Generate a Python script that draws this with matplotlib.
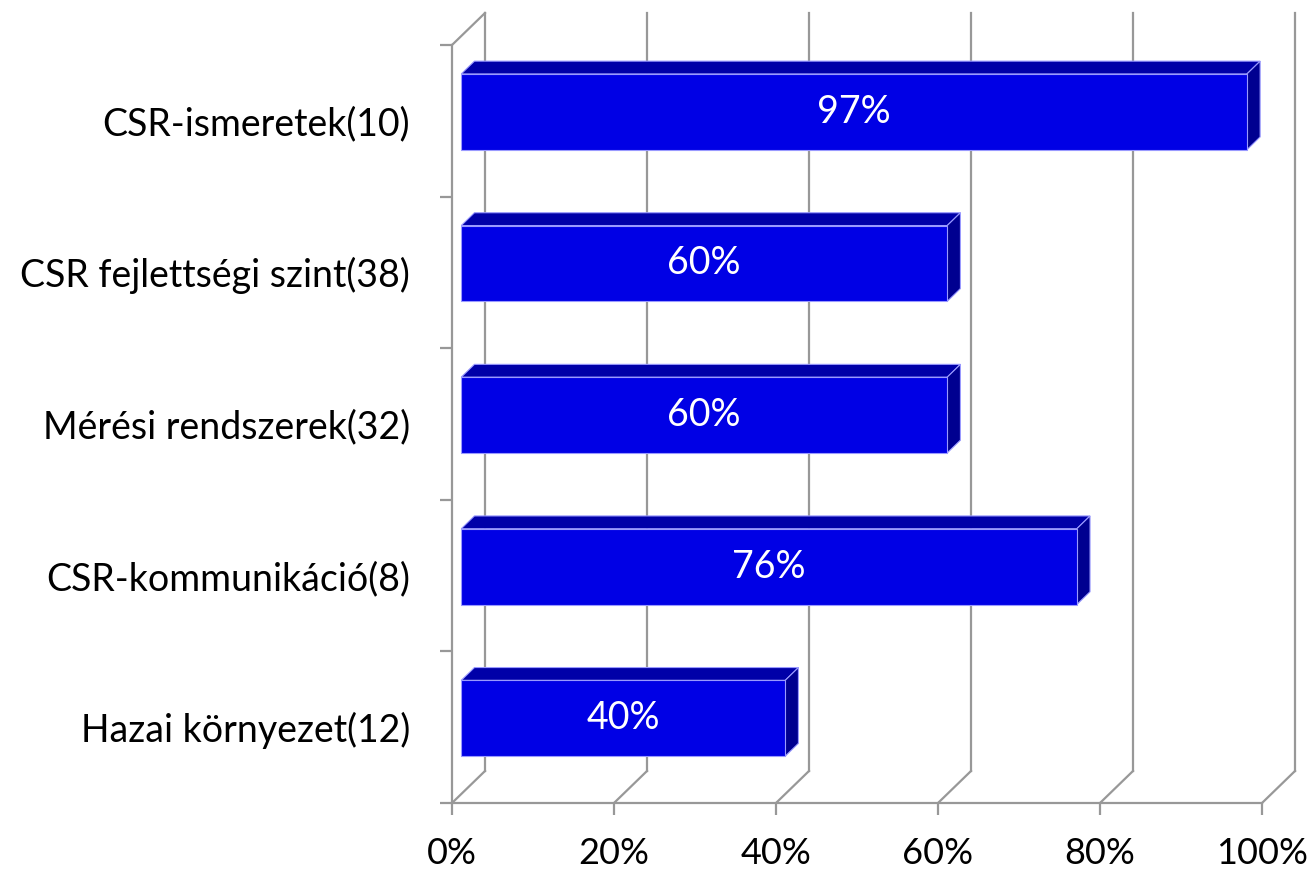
import matplotlib
matplotlib.use("Agg")
import matplotlib.pyplot as plt
from matplotlib.patches import Polygon

# ---- data ----
categories = ["Hazai környezet(12)", "CSR-kommunikáció(8)", "Mérési rendszerek(32)",
              "CSR fejlettségi szint(38)", "CSR-ismeretek(10)"]
values = [40, 76, 60, 60, 97]
labels = ["40%", "76%", "60%", "60%", "97%"]
xticks = [0, 20, 40, 60, 80, 100]
xticklabels = ["0%", "20%", "40%", "60%", "80%", "100%"]

# ---- style ----
W, H = 1307, 877
FONT = "Lato"
FS = 27
FS_X = 26
GRID = "#989898"
FRONT = "#0000E5"
TOP = "#0000A8"
SIDE = "#000090"
EDGE = "#9a9aff"

fig = plt.figure(figsize=(W / 100, H / 100), dpi=100)
# front plane of the pseudo-3D chart
L, R, T, B = 452, 1262, 45, 803
ax = fig.add_axes([L / W, (H - B) / H, (R - L) / W, (B - T) / H])
ax.set_xlim(0, 100)
ax.set_ylim(-0.5, len(categories) - 0.5)

px_x = (R - L) / 100.0
px_y = (B - T) / len(categories)
DX = 33 / px_x   # depth offset in x data units
DY = 32 / px_y   # depth offset in y data units
F0, F1 = 0.28, 0.68
HALF = 0.25

def proj(x, y, d):
    return (x + d * DX, y + d * DY)

ymin, ymax = -0.5, len(categories) - 0.5
lw = 1.6
# back wall gridlines + floor diagonals
for t in xticks:
    bx, by0 = proj(t, ymin, 1)
    _, by1 = proj(t, ymax, 1)
    ax.plot([bx, bx], [by0, by1], color=GRID, lw=lw, clip_on=False, zorder=1)
    fx, fy = proj(t, ymin, 0)
    ax.plot([fx, bx], [fy, by0], color=GRID, lw=lw, clip_on=False, zorder=1)
# left wall top diagonal
x0, y0 = proj(0, ymax, 0)
x1, y1 = proj(0, ymax, 1)
ax.plot([x0, x1], [y0, y1], color=GRID, lw=lw, clip_on=False, zorder=1)

# bars
for i, (v, lab) in enumerate(zip(values, labels)):
    lo, hi = i - HALF, i + HALF
    front = [proj(0, lo, F0), proj(v, lo, F0), proj(v, hi, F0), proj(0, hi, F0)]
    top = [proj(0, hi, F0), proj(v, hi, F0), proj(v, hi, F1), proj(0, hi, F1)]
    side = [proj(v, lo, F0), proj(v, lo, F1), proj(v, hi, F1), proj(v, hi, F0)]
    for poly, col in ((top, TOP), (side, SIDE), (front, FRONT)):
        ax.add_patch(Polygon(poly, closed=True, facecolor=col, edgecolor=EDGE,
                             lw=0.8, clip_on=False, zorder=3))
    cx, cy = proj(v / 2, i, F0)
    ax.text(cx, cy, lab, color="white", fontsize=FS, family=FONT,
            ha="center", va="center", zorder=4)

# axes styling
for s in ("top", "right"):
    ax.spines[s].set_visible(False)
for s in ("left", "bottom"):
    ax.spines[s].set_color(GRID)
    ax.spines[s].set_linewidth(lw)
ax.set_xticks(xticks)
ax.set_xticklabels(xticklabels, fontsize=FS_X, family=FONT)
ax.set_yticks(range(len(categories)))
ax.set_yticklabels(categories, fontsize=FS, family=FONT)
ax.set_yticks([k - 0.5 for k in range(len(categories) + 1)], minor=True)
ax.tick_params(axis="y", which="major", length=0, pad=30)
ax.tick_params(axis="y", which="minor", length=8.6, width=lw, color=GRID)
ax.tick_params(axis="x", which="major", length=8.6, width=lw, color=GRID, pad=16)
ax.set_facecolor("none")

fig.savefig("out.png", dpi=100)
